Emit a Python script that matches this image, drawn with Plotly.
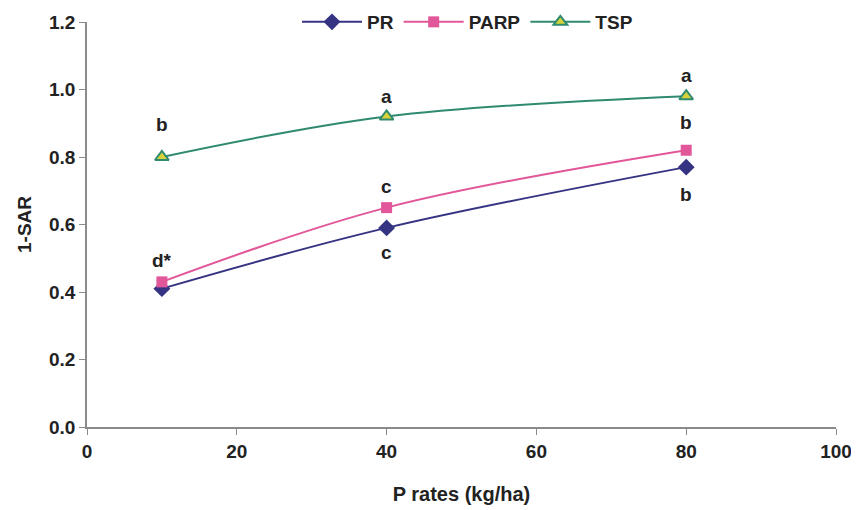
import plotly.graph_objects as go

rates = [10, 40, 80]
pr = [0.41, 0.59, 0.77]
parp = [0.43, 0.65, 0.82]
tsp = [0.80, 0.92, 0.98]

labels_x = [10, 10, 40, 40, 40, 80, 80, 80]
labels_y = [0.43, 0.80, 0.92, 0.65, 0.59, 0.98, 0.82, 0.77]
labels_t = ["d*", "b", "a", "c", "c", "a", "b", "b"]
# pixel offsets of letter labels from their points
label_shift = [21, 33, 20, 21, -25, 21, 28, -27]

FONT = "Liberation Sans, Arial"
TXT = "#222222"

fig = go.Figure()
fig.add_trace(go.Scatter(x=rates, y=pr, name="PR", mode="lines+markers",
                         line=dict(color="#343483", width=2, shape="spline"),
                         marker=dict(symbol="diamond", size=13, color="#343483")))
fig.add_trace(go.Scatter(x=rates, y=parp, name="PARP", mode="lines+markers",
                         line=dict(color="#e2579a", width=2, shape="spline"),
                         marker=dict(symbol="square", size=11, color="#e2579a")))
fig.add_trace(go.Scatter(x=rates, y=tsp, name="TSP", mode="lines+markers",
                         line=dict(color="#2f8a70", width=2, shape="spline"),
                         marker=dict(symbol="triangle-up", size=12, color="#d8d23a",
                                     line=dict(color="#2f8a70", width=2))))

for x, y, t, s in zip(labels_x, labels_y, labels_t, label_shift):
    fig.add_annotation(x=x, y=y, text=t, showarrow=False, yshift=s,
                       font=dict(family=FONT, size=19, color=TXT, weight="bold"))

fig.update_layout(
    width=859, height=510,
    margin=dict(l=79, r=31, t=14, b=91, autoexpand=False),
    paper_bgcolor="white", plot_bgcolor="white",
    font=dict(family=FONT, size=19, color=TXT, weight="bold"),
    showlegend=True,
    legend=dict(orientation="h", x=0.508, xanchor="center", y=1.0, yanchor="middle",
                font=dict(family=FONT, size=19, color=TXT, weight="bold"),
                bgcolor="rgba(0,0,0,0)", itemwidth=60, tracegroupgap=0),
)
axis_common = dict(showgrid=False, zeroline=False, showline=True, linecolor="#8a8a8a",
                   linewidth=1.5, ticks="outside", ticklen=6, tickcolor="#8a8a8a",
                   tickfont=dict(family=FONT, size=19, color=TXT, weight="bold"),
                   automargin=False)
fig.update_xaxes(range=[0, 100], tickmode="array", tickvals=[0, 20, 40, 60, 80, 100],
                 title=dict(text="P rates (kg/ha)", standoff=26,
                            font=dict(family=FONT, size=20, color=TXT, weight="bold")),
                 **axis_common)
fig.update_yaxes(range=[0, 1.2], tickmode="array", tickvals=[0, 0.2, 0.4, 0.6, 0.8, 1.0, 1.2],
                 tickformat=".1f",
                 title=dict(text="1-SAR", standoff=12,
                            font=dict(family=FONT, size=19, color=TXT, weight="bold")),
                 **axis_common)

fig.write_html("out.html")
